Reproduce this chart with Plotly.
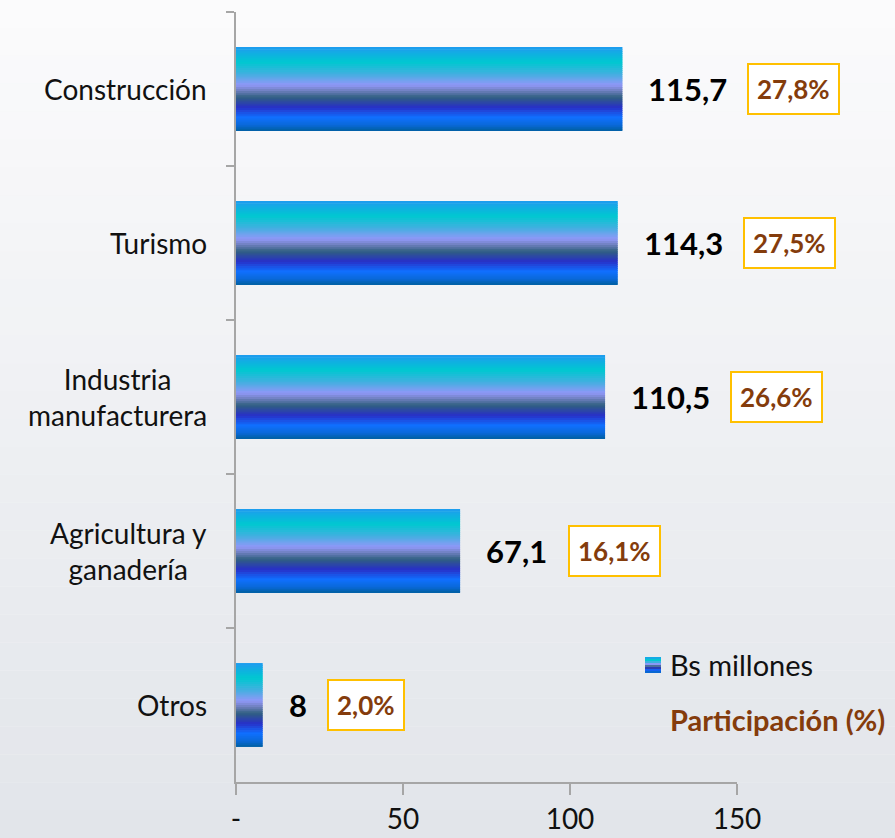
import plotly.graph_objects as go

# ---- data ----
categories = ["Construcción", "Turismo", "Industria manufacturera", "Agricultura y ganadería", "Otros"]
category_labels = ["Construcción", "Turismo", "Industria<br>manufacturera", "Agricultura y<br>ganadería", "Otros"]
values = [115.7, 114.3, 110.5, 67.1, 8]
value_labels = ["115,7", "114,3", "110,5", "67,1", "8"]
shares = ["27,8%", "27,5%", "26,6%", "16,1%", "2,0%"]
x_ticks = [0, 50, 100, 150]
x_tick_labels = ["-", "50", "100", "150"]
series_name = "Bs millones"
share_title = "Participación (%)"

# ---- style ----
W, H = 895, 838
ML, MR, MT, MB = 236, 158, 12, 56
FONT = "Lato"
stops = [
    (0.00, (30, 155, 240)),
    (0.18, (0, 200, 208)),
    (0.32, (64, 176, 224)),
    (0.45, (144, 152, 248)),
    (0.52, (112, 128, 192)),
    (0.60, (48, 96, 128)),
    (0.72, (40, 48, 200)),
    (0.84, (16, 112, 255)),
    (0.93, (10, 104, 216)),
    (1.00, (0, 96, 160)),
]


def grad(t):
    for (p0, c0), (p1, c1) in zip(stops[:-1], stops[1:]):
        if p0 <= t <= p1:
            f = (t - p0) / (p1 - p0) if p1 > p0 else 0
            c = [round(a + (b - a) * f) for a, b in zip(c0, c1)]
            return "rgb(%d,%d,%d)" % tuple(c)
    return "rgb(%d,%d,%d)" % stops[-1][1]


def px2paper(px, py):
    return (px - ML) / (W - ML - MR), (H - MB - py) / (H - MT - MB)


fig = go.Figure()

# gradient bars built from stacked bands
N = 40
bw = 0.545
step = bw / N
for i in range(N):
    t = (i + 0.5) / N
    fig.add_trace(go.Bar(
        x=values, y=categories, orientation="h",
        width=step * (1.35 if i < N - 1 else 1.0),
        offset=-bw / 2 + i * step,
        marker=dict(color=grad(t), line=dict(width=0)),
        showlegend=False, hoverinfo="skip",
    ))

# background gradient
shapes = []
NB = 30
for k in range(NB):
    f = k / (NB - 1)
    c0, c1 = (251, 251, 252), (226, 229, 234)
    c = [round(a + (b - a) * f) for a, b in zip(c0, c1)]
    shapes.append(dict(type="rect", xref="paper", yref="paper", layer="below",
                       x0=px2paper(0, 0)[0], x1=px2paper(W, 0)[0],
                       y0=px2paper(0, H * k / NB)[1], y1=px2paper(0, H * (k + 1) / NB)[1],
                       fillcolor="rgb(%d,%d,%d)" % tuple(c), line=dict(width=0)))

# legend swatch
sx0, sx1, sy0, sy1 = 645, 661, 657, 673
NS = 8
for k in range(NS):
    a = px2paper(sx0, sy0 + (sy1 - sy0) * k / NS)
    b = px2paper(sx1, sy0 + (sy1 - sy0) * (k + 1) / NS)
    shapes.append(dict(type="rect", xref="paper", yref="paper",
                       x0=a[0], x1=b[0], y0=b[1], y1=a[1],
                       fillcolor=grad((k + 0.5) / NS), line=dict(width=0)))

annotations = []
for cat, lab in zip(categories, category_labels):
    annotations.append(dict(xref="paper", yref="y", x=0, y=cat, text=lab, showarrow=False,
                            xanchor="right", align="center", xshift=-27,
                            font=dict(family=FONT, size=28, color="#111111")))


def text_w(s):
    return sum(8 if ch == "," else 17.5 for ch in s)


for cat, v, vl, sh in zip(categories, values, value_labels, shares):
    annotations.append(dict(xref="x", yref="y", x=v, y=cat, text="<b>%s</b>" % vl, showarrow=False,
                            xanchor="left", xshift=24,
                            font=dict(family=FONT, size=31, color="#000000")))
    annotations.append(dict(xref="x", yref="y", x=v, y=cat, text="<b>%s</b>" % sh, showarrow=False,
                            xanchor="left", xshift=24 + text_w(vl) + 23,
                            bordercolor="#FFC000", borderwidth=2, borderpad=8, bgcolor="#FFFFFF",
                            font=dict(family=FONT, size=26, color="#843C0C")))

lx, ly = px2paper(668, 664)
annotations.append(dict(xref="paper", yref="paper", x=lx, y=ly, text=series_name, showarrow=False,
                        xanchor="left", yanchor="middle",
                        font=dict(family=FONT, size=29, color="#111111")))
px_, py_ = px2paper(668, 719)
annotations.append(dict(xref="paper", yref="paper", x=px_, y=py_, text="<b>%s</b>" % share_title,
                        showarrow=False, xanchor="left", yanchor="middle",
                        font=dict(family=FONT, size=29, color="#843C0C")))

fig.update_layout(
    width=W, height=H,
    margin=dict(l=ML, r=MR, t=MT, b=MB, autoexpand=False),
    paper_bgcolor="#F4F5F7", plot_bgcolor="rgba(0,0,0,0)",
    barmode="overlay", bargap=0.45,
    showlegend=False,
    shapes=shapes, annotations=annotations,
    xaxis=dict(range=[0, 150], tickvals=x_ticks, ticktext=x_tick_labels, automargin=False,
               showgrid=False, zeroline=False, showline=True, linecolor="#A6A6A6", linewidth=2,
               ticks="outside", ticklen=11, tickwidth=2, tickcolor="#A6A6A6", ticklabelstandoff=0,
               tickfont=dict(family=FONT, size=28, color="#111111"), fixedrange=True),
    yaxis=dict(categoryorder="array", categoryarray=categories, autorange="reversed",
               showticklabels=False, showgrid=False, zeroline=False, automargin=False,
               showline=True, linecolor="#A6A6A6", linewidth=2,
               ticks="outside", tickson="boundaries", ticklen=8, tickwidth=2, tickcolor="#A6A6A6"),
)

fig.write_html("out.html", config={"displayModeBar": False},
               post_script="document.body.style.margin='0';document.body.style.overflow='hidden';"
                           "document.body.style.background='#E2E5EA';")
